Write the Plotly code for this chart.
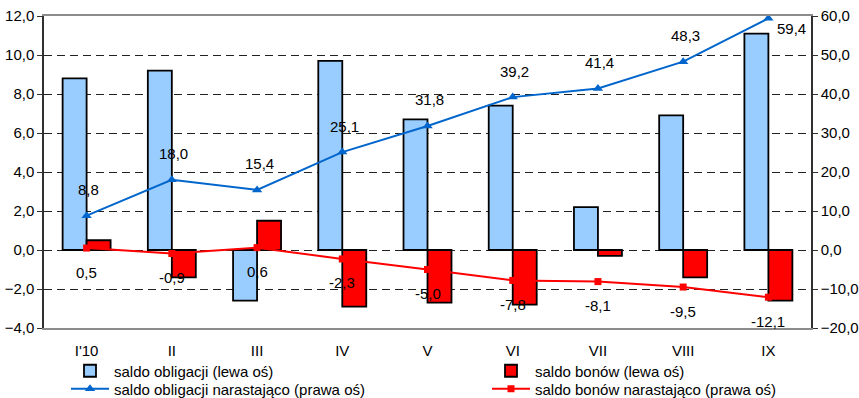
import plotly.graph_objects as go

# Monthly data, 2010
months = ["I'10", "II", "III", "IV", "V", "VI", "VII", "VIII", "IX"]
bonds_net = [8.8, 9.2, -2.6, 9.7, 6.7, 7.4, 2.2, 6.9, 11.1]          # left axis
bills_net = [0.5, -1.4, 1.5, -2.9, -2.7, -2.8, -0.3, -1.4, -2.6]     # left axis
bonds_cum = [8.8, 18.0, 15.4, 25.1, 31.8, 39.2, 41.4, 48.3, 59.4]    # right axis
bills_cum = [0.5, -0.9, 0.6, -2.3, -5.0, -7.8, -8.1, -9.5, -12.1]    # right axis

left_ticks = [-4, -2, 0, 2, 4, 6, 8, 10, 12]
right_ticks = [-20, -10, 0, 10, 20, 30, 40, 50, 60]

FONT = "Liberation Sans, Arial, sans-serif"
TXT = "#000000"
BLUE_LINE = "#0066CC"
RED = "#FF0000"

# plot area is 767 x 312 px; legend entries sit in two columns and two rows
PLOT_W, PLOT_H = 767, 312
COL_X = [22 / PLOT_W, 443 / PLOT_W]
ROW_Y = [-43 / PLOT_H, -61 / PLOT_H]


def pl(v):
    return f"{v:.1f}".replace(".", ",")


fig = go.Figure()

fig.add_trace(go.Bar(
    x=months, y=bonds_net, name="saldo obligacji (lewa oś)",
    marker=dict(color="#99CCFF", line=dict(color="#000000", width=1.8)),
    legend="legend", yaxis="y",
))
fig.add_trace(go.Bar(
    x=months, y=bills_net, name="saldo bonów (lewa oś)",
    marker=dict(color=RED, line=dict(color="#000000", width=1.8)),
    legend="legend2", yaxis="y",
))
fig.add_trace(go.Scatter(
    x=months, y=bonds_cum, name="saldo obligacji narastająco (prawa oś)",
    mode="lines+markers", yaxis="y2",
    line=dict(color=BLUE_LINE, width=2),
    marker=dict(symbol="triangle-up", size=9, color=BLUE_LINE),
    legend="legend3",
))
fig.add_trace(go.Scatter(
    x=months, y=bills_cum, name="saldo bonów narastająco (prawa oś)",
    mode="lines+markers", yaxis="y2",
    line=dict(color=RED, width=2),
    marker=dict(symbol="square", size=7, color=RED),
    legend="legend4",
))

# value labels for the cumulative lines
annotations = []
for i, (m, v) in enumerate(zip(months, bonds_cum)):
    last = i == len(months) - 1
    annotations.append(dict(
        x=m, y=v, xref="x", yref="y2", text=pl(v), showarrow=False,
        font=dict(family=FONT, size=15, color=TXT),
        xanchor="left" if last else "center", yanchor="middle",
        xshift=7 if last else 2, yshift=-10 if last else 26,
    ))
for m, v in zip(months, bills_cum):
    annotations.append(dict(
        x=m, y=v, xref="x", yref="y2", text=pl(v), showarrow=False,
        font=dict(family=FONT, size=15, color=TXT),
        xanchor="center", yanchor="middle", yshift=-24,
    ))


def legend_box(col, row):
    return dict(
        x=COL_X[col], y=ROW_Y[row], xanchor="left", yanchor="middle",
        orientation="v", itemwidth=38, tracegroupgap=0,
        bgcolor="rgba(0,0,0,0)", font=dict(family=FONT, size=15, color=TXT),
    )


fig.update_layout(
    width=859, height=398,
    margin=dict(l=44, r=48, t=16, b=70, autoexpand=False),
    paper_bgcolor="white", plot_bgcolor="white",
    font=dict(family=FONT, size=15, color=TXT),
    separators=", ",
    barmode="group", bargap=0.437, bargroupgap=0,
    showlegend=True,
    annotations=annotations,
    xaxis=dict(
        type="category", categoryorder="array", categoryarray=months,
        range=[-0.5, len(months) - 0.5], automargin=False,
        showline=True, linecolor="#8C8C8C", linewidth=2, mirror=True,
        ticks="", showgrid=False, zeroline=False, ticklabelstandoff=8,
        tickfont=dict(family=FONT, size=15, color=TXT),
    ),
    # category axis crossing the value axis at zero
    xaxis2=dict(
        type="linear", overlaying="x", anchor="free", position=0.25,
        range=[-0.5, len(months) - 0.5], automargin=False,
        tickvals=[i + 0.5 for i in range(len(months) - 1)],
        ticks="outside", ticklen=5, tickwidth=1, tickcolor="#404040",
        showticklabels=False, showline=True, linecolor="#404040", linewidth=1,
        showgrid=False, zeroline=False,
    ),
    yaxis=dict(
        range=[-4, 12], tickvals=left_ticks, automargin=False,
        tickformat=".1f",
        showline=True, linecolor="#303030", linewidth=1.5,
        ticks="outside", ticklen=5, tickcolor="#303030",
        showgrid=True, gridcolor="#222222", gridwidth=1, griddash="8px,5px",
        zeroline=False,
        tickfont=dict(family=FONT, size=15, color=TXT),
    ),
    yaxis2=dict(
        range=[-20, 60], tickvals=right_ticks, tickformat=".1f",
        overlaying="y", side="right", automargin=False,
        showline=True, linecolor="#303030", linewidth=1.5,
        ticks="outside", ticklen=5, tickcolor="#303030",
        showgrid=False, zeroline=False,
        tickfont=dict(family=FONT, size=15, color=TXT),
    ),
    legend=legend_box(0, 0),
    legend2=legend_box(1, 0),
    legend3=legend_box(0, 1),
    legend4=legend_box(1, 1),
)

fig.write_html("out.html")
